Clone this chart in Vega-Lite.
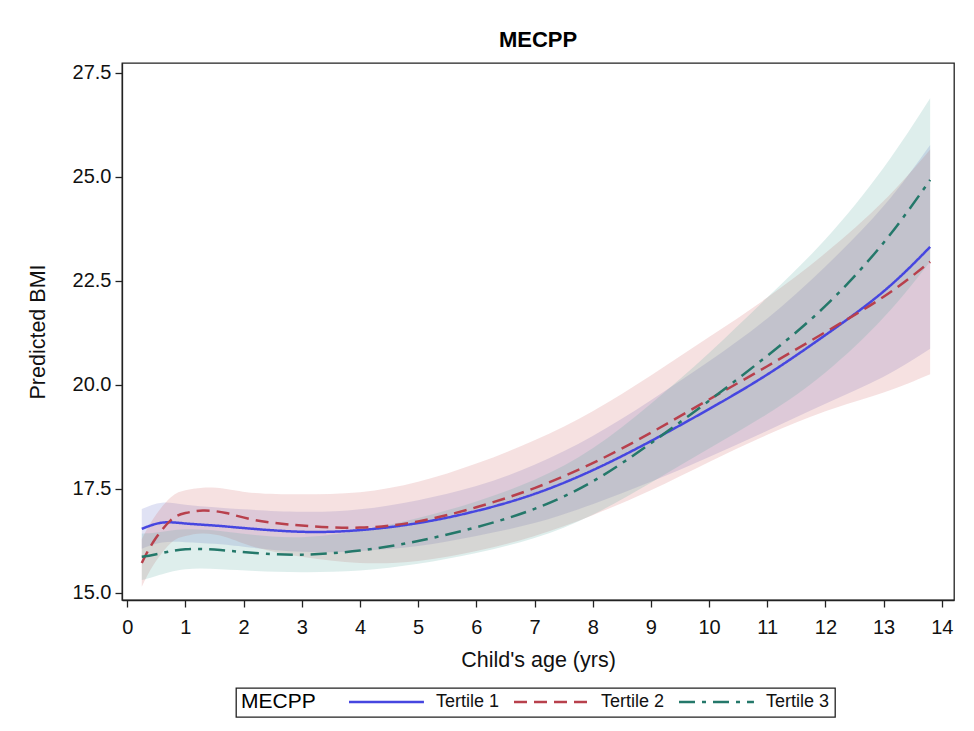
{
  "$schema": "https://vega.github.io/schema/vega-lite/v6.json",
  "width": 832,
  "height": 537,
  "autosize": {"type": "none"},
  "padding": {"left": 122, "top": 63, "right": 20, "bottom": 131},
  "background": "white",
  "title": {"text": "MECPP", "fontSize": 22, "fontWeight": "bold", "font": "Liberation Sans", "color": "#000", "anchor": "middle", "offset": 11},
  "config": {
    "view": {"stroke": "#222", "strokeWidth": 1.3},
    "font": "Liberation Sans",
    "axis": {"domainColor": "#222", "tickColor": "#222", "labelColor": "#111", "titleColor": "#111", "labelFontSize": 20, "titleFontSize": 21.5, "titleFontWeight": "normal", "grid": false, "tickSize": 7, "domainWidth": 1.3, "tickWidth": 1.3},
    "legend": {"strokeColor": "#222", "strokeWidth": 1.3, "padding": 5, "titleFontSize": 21, "titleFontWeight": "normal", "titleColor": "#000", "labelFontSize": 18, "labelColor": "#111", "symbolSize": 156, "symbolStrokeWidth": 2.4, "columnPadding": 5, "titlePadding": 24, "labelOffset": 78}
  },
  "data": {"values": [
    {"tertile": "Tertile 1", "age": 0.25, "bmi": 16.54, "hw": 0.48},
    {"tertile": "Tertile 1", "age": 0.6, "bmi": 16.69, "hw": 0.48},
    {"tertile": "Tertile 1", "age": 1, "bmi": 16.67, "hw": 0.45},
    {"tertile": "Tertile 1", "age": 1.5, "bmi": 16.62, "hw": 0.44},
    {"tertile": "Tertile 1", "age": 2, "bmi": 16.56, "hw": 0.45},
    {"tertile": "Tertile 1", "age": 3, "bmi": 16.47, "hw": 0.48},
    {"tertile": "Tertile 1", "age": 4, "bmi": 16.51, "hw": 0.5},
    {"tertile": "Tertile 1", "age": 5, "bmi": 16.68, "hw": 0.55},
    {"tertile": "Tertile 1", "age": 6, "bmi": 16.97, "hw": 0.6},
    {"tertile": "Tertile 1", "age": 7, "bmi": 17.38, "hw": 0.7},
    {"tertile": "Tertile 1", "age": 8, "bmi": 17.95, "hw": 0.82},
    {"tertile": "Tertile 1", "age": 9, "bmi": 18.65, "hw": 0.98},
    {"tertile": "Tertile 1", "age": 10, "bmi": 19.42, "hw": 1.15},
    {"tertile": "Tertile 1", "age": 11, "bmi": 20.25, "hw": 1.35},
    {"tertile": "Tertile 1", "age": 12, "bmi": 21.2, "hw": 1.65},
    {"tertile": "Tertile 1", "age": 13, "bmi": 22.25, "hw": 2.05},
    {"tertile": "Tertile 1", "age": 13.8, "bmi": 23.32, "hw": 2.45},
    {"tertile": "Tertile 2", "age": 0.25, "bmi": 15.72, "hw": 0.57},
    {"tertile": "Tertile 2", "age": 0.45, "bmi": 16.23, "hw": 0.56},
    {"tertile": "Tertile 2", "age": 0.75, "bmi": 16.75, "hw": 0.55},
    {"tertile": "Tertile 2", "age": 1, "bmi": 16.92, "hw": 0.55},
    {"tertile": "Tertile 2", "age": 1.3, "bmi": 16.98, "hw": 0.55},
    {"tertile": "Tertile 2", "age": 1.7, "bmi": 16.92, "hw": 0.58},
    {"tertile": "Tertile 2", "age": 2.2, "bmi": 16.75, "hw": 0.65},
    {"tertile": "Tertile 2", "age": 3, "bmi": 16.62, "hw": 0.75},
    {"tertile": "Tertile 2", "age": 4, "bmi": 16.57, "hw": 0.85},
    {"tertile": "Tertile 2", "age": 5, "bmi": 16.72, "hw": 0.95},
    {"tertile": "Tertile 2", "age": 6, "bmi": 17.06, "hw": 1.05},
    {"tertile": "Tertile 2", "age": 7, "bmi": 17.52, "hw": 1.15},
    {"tertile": "Tertile 2", "age": 8, "bmi": 18.12, "hw": 1.25},
    {"tertile": "Tertile 2", "age": 9, "bmi": 18.85, "hw": 1.38},
    {"tertile": "Tertile 2", "age": 10, "bmi": 19.65, "hw": 1.5},
    {"tertile": "Tertile 2", "age": 11, "bmi": 20.45, "hw": 1.65},
    {"tertile": "Tertile 2", "age": 12, "bmi": 21.27, "hw": 1.9},
    {"tertile": "Tertile 2", "age": 13, "bmi": 22.12, "hw": 2.3},
    {"tertile": "Tertile 2", "age": 13.8, "bmi": 22.96, "hw": 2.7},
    {"tertile": "Tertile 3", "age": 0.25, "bmi": 15.87, "hw": 0.56},
    {"tertile": "Tertile 3", "age": 0.5, "bmi": 15.93, "hw": 0.52},
    {"tertile": "Tertile 3", "age": 1, "bmi": 16.05, "hw": 0.48},
    {"tertile": "Tertile 3", "age": 1.6, "bmi": 16.03, "hw": 0.46},
    {"tertile": "Tertile 3", "age": 2.2, "bmi": 15.96, "hw": 0.43},
    {"tertile": "Tertile 3", "age": 3, "bmi": 15.92, "hw": 0.42},
    {"tertile": "Tertile 3", "age": 4, "bmi": 16.02, "hw": 0.48},
    {"tertile": "Tertile 3", "age": 5, "bmi": 16.25, "hw": 0.55},
    {"tertile": "Tertile 3", "age": 6, "bmi": 16.58, "hw": 0.62},
    {"tertile": "Tertile 3", "age": 7, "bmi": 17.02, "hw": 0.7},
    {"tertile": "Tertile 3", "age": 8, "bmi": 17.68, "hw": 0.8},
    {"tertile": "Tertile 3", "age": 9, "bmi": 18.6, "hw": 0.95},
    {"tertile": "Tertile 3", "age": 10, "bmi": 19.62, "hw": 1.15},
    {"tertile": "Tertile 3", "age": 11, "bmi": 20.7, "hw": 1.4},
    {"tertile": "Tertile 3", "age": 12, "bmi": 21.9, "hw": 1.6},
    {"tertile": "Tertile 3", "age": 13, "bmi": 23.42, "hw": 1.8},
    {"tertile": "Tertile 3", "age": 13.8, "bmi": 24.93, "hw": 1.96}
  ]},
  "transform": [
    {"calculate": "datum.bmi - datum.hw", "as": "lo"},
    {"calculate": "datum.bmi + datum.hw", "as": "hi"},
    {"calculate": "datum.tertile", "as": "band"}
  ],
  "layer": [
    {
      "mark": {"type": "area", "interpolate": "natural", "opacity": 0.2},
      "encoding": {
        "x": {"field": "age", "type": "quantitative"},
        "y": {"field": "lo", "type": "quantitative"},
        "y2": {"field": "hi"},
        "fill": {"field": "band", "type": "nominal", "legend": null,
          "scale": {"range": ["#646ec8", "#d46a6a", "#5aaaa0"]}}
      }
    },
    {
      "mark": {"type": "line", "interpolate": "natural", "strokeWidth": 2.5},
      "encoding": {
        "x": {"field": "age", "type": "quantitative",
          "scale": {"domain": [-0.09, 14.21], "nice": false, "zero": false},
          "axis": {"title": "Child's age (yrs)", "values": [0,1,2,3,4,5,6,7,8,9,10,11,12,13,14], "format": "d", "labelPadding": 10, "titlePadding": 12}},
        "y": {"field": "bmi", "type": "quantitative",
          "scale": {"domain": [14.83, 27.74], "nice": false, "zero": false},
          "axis": {"title": "Predicted BMI", "values": [15, 17.5, 20, 22.5, 25, 27.5], "format": ".1f", "labelPadding": 4, "titlePadding": 23}},
        "color": {"field": "tertile", "type": "nominal", "title": "MECPP",
          "scale": {"domain": ["Tertile 1", "Tertile 2", "Tertile 3"], "range": ["#4646e0", "#b8404c", "#24786a"]},
          "legend": {"orient": "none", "direction": "horizontal", "titleOrient": "left", "legendX": 114, "legendY": 625, "symbolType": "M0,0H12"}},
        "strokeDash": {"field": "tertile", "type": "nominal", "title": "MECPP",
          "scale": {"domain": ["Tertile 1", "Tertile 2", "Tertile 3"], "range": [[1, 0], [13, 7], [16, 7, 4, 7]]},
          "legend": {"orient": "none", "direction": "horizontal", "titleOrient": "left", "legendX": 114, "legendY": 625, "symbolType": "M0,0H12"}}
      }
    }
  ]
}
